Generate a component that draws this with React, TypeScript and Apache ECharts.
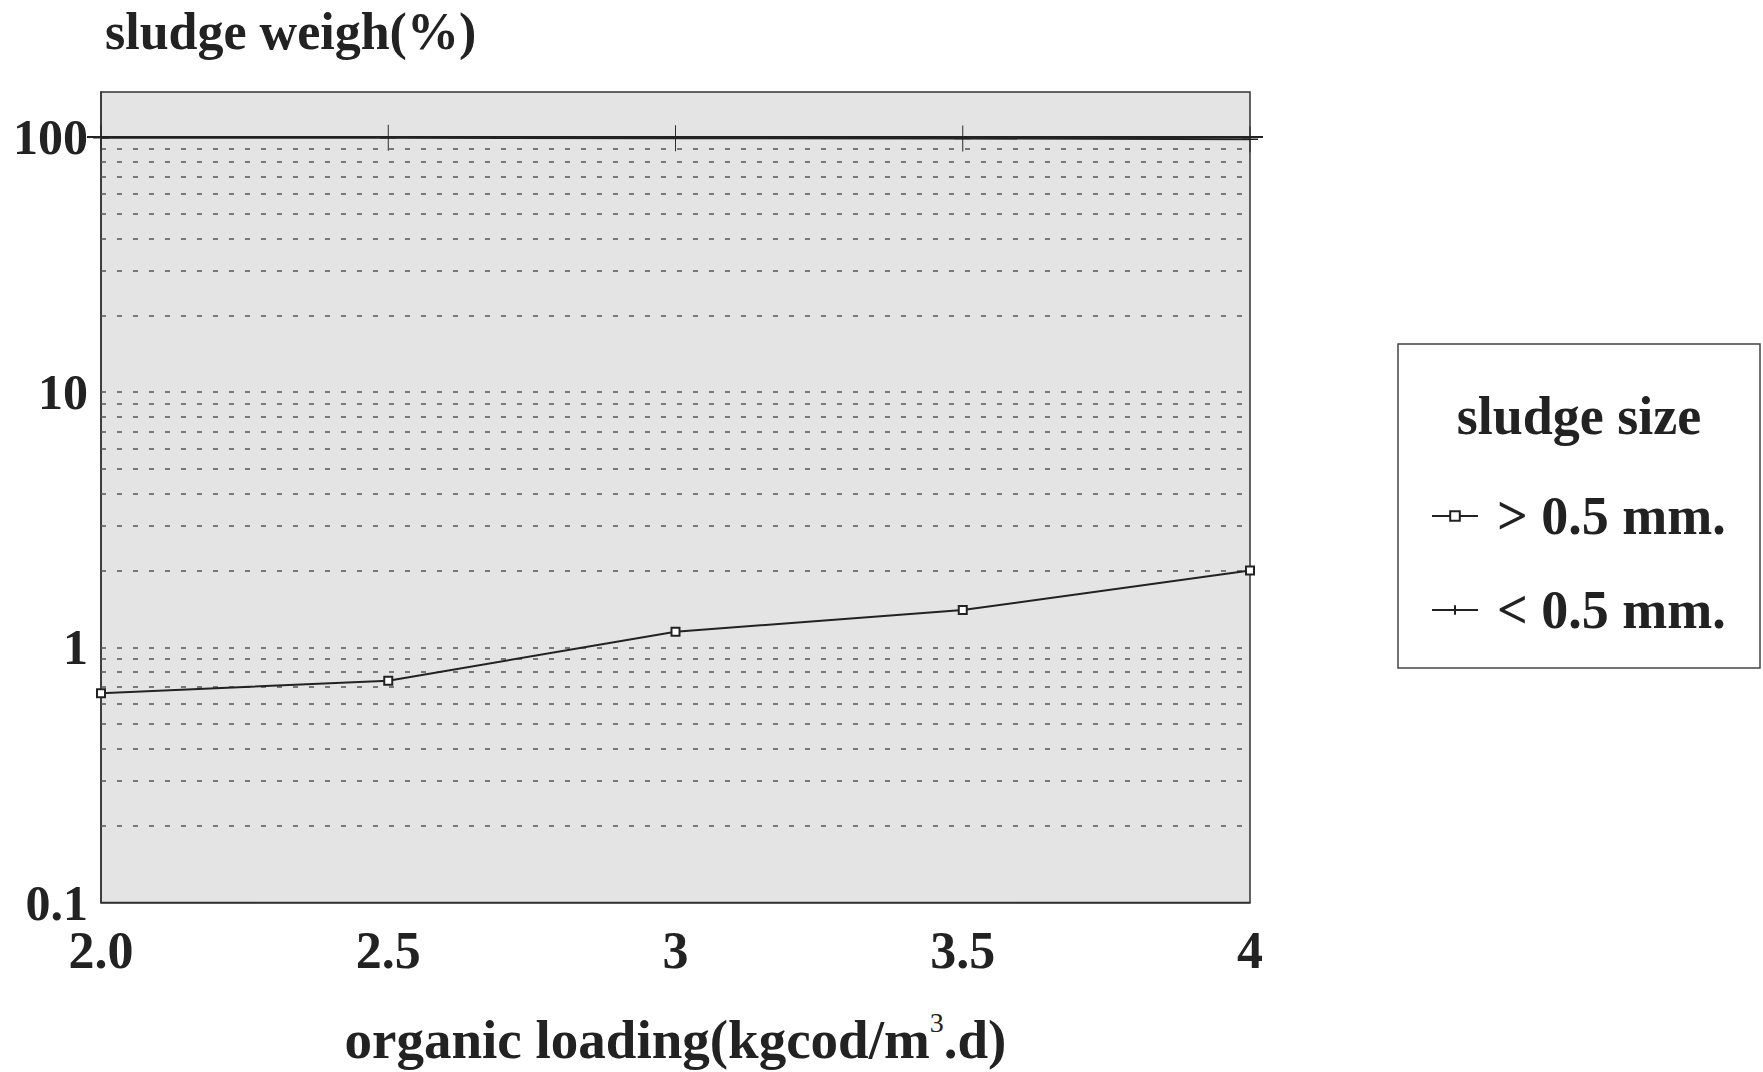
import React, { useEffect, useRef } from 'react';
import * as echarts from 'echarts';

// organic loading (kgcod/m3.d)
const loading = [2.0, 2.5, 3.0, 3.5, 4.0];
// sludge weight (%) for sludge size > 0.5 mm
const coarseSludge = [0.66, 0.74, 1.15, 1.4, 2.0];
// sludge weight (%) for sludge size < 0.5 mm
const fineSludge = [99.3, 99.2, 98.9, 98.6, 98.0];

const seriesNames = ['> 0.5 mm.', '< 0.5 mm.'];
const xTickLabels = ['2.0', '2.5', '3', '3.5', '4'];
const yTickLabels = ['0.1', '1', '10', '100'];
const dashedGridValues = [
  0.2, 0.3, 0.4, 0.5, 0.6, 0.7, 0.8, 0.9, 1,
  2, 3, 4, 5, 6, 7, 8, 9, 10,
  20, 30, 40, 50, 60, 70, 80, 90,
];
const solidGridValue = 100;

const FONT = '"Liberation Serif", "Times New Roman", serif';
const INK = '#222';

export default function App() {
  const ref = useRef<HTMLDivElement>(null);

  useEffect(() => {
    if (!ref.current) return;
    const chart = echarts.init(ref.current, null, { renderer: 'svg' });

    const option: any = {
      animation: false,
      backgroundColor: '#ffffff',
      title: {
        text: 'sludge weigh(%)',
        left: 100,
        top: 0,
        textStyle: { fontFamily: FONT, fontSize: 52, fontWeight: 'bold', color: INK },
      },
      grid: {
        left: 101,
        top: 92,
        width: 1149,
        height: 811,
        show: true,
        backgroundColor: '#e4e4e4',
        borderColor: '#333',
        borderWidth: 1.5,
      },
      legend: {
        left: 1426,
        top: 484,
        orient: 'vertical',
        itemWidth: 46,
        itemHeight: 12,
        itemGap: 40,
        data: seriesNames,
        textStyle: {
          fontFamily: FONT,
          fontSize: 54,
          fontWeight: 'bold',
          color: INK,
          lineHeight: 54,
          padding: [0, 0, 0, 14],
        },
      },
      xAxis: {
        type: 'value',
        min: 2,
        max: 4,
        interval: 0.5,
        name: '{a|organic loading(kgcod/m}{s|3}{a|.d)}',
        nameLocation: 'middle',
        nameGap: 106,
        nameTextStyle: {
          rich: {
            a: { fontFamily: FONT, fontSize: 55, color: INK, fontWeight: 'bold' },
            s: { fontFamily: FONT, fontSize: 28, color: INK, padding: [0, 0, 34, 0] },
          },
        },
        axisLine: { show: true, lineStyle: { color: '#333', width: 1.5 } },
        axisTick: { show: false },
        splitLine: { show: false },
        axisLabel: {
          margin: 22,
          fontFamily: FONT,
          fontSize: 52,
          fontWeight: 'bold',
          color: INK,
          formatter: (v: number) => {
            const i = Math.round((v - loading[0]) / 0.5);
            return Math.abs(loading[0] + i * 0.5 - v) < 1e-6 ? xTickLabels[i] ?? '' : '';
          },
        },
      },
      yAxis: {
        type: 'log',
        logBase: 10,
        min: 0.1,
        max: 150,
        axisLine: { show: true, lineStyle: { color: '#333', width: 1.5 } },
        axisTick: { show: false },
        splitLine: { show: false },
        axisLabel: {
          margin: 13,
          fontFamily: FONT,
          fontSize: 50,
          fontWeight: 'bold',
          color: INK,
          formatter: (v: number) => {
            const l = Math.log10(v);
            const r = Math.round(l);
            if (Math.abs(l - r) > 1e-6) return '';
            return yTickLabels[r + 1] ?? '';
          },
        },
      },
      series: [
        {
          name: seriesNames[0],
          type: 'line',
          data: loading.map((x, i) => [x, coarseSludge[i]]),
          symbol: 'emptyRect',
          symbolSize: 8,
          lineStyle: { color: INK, width: 2 },
          itemStyle: { color: INK, borderWidth: 1.5 },
          z: 5,
          markLine: {
            silent: true,
            symbol: ['none', 'none'],
            label: { show: false },
            lineStyle: { color: '#555', width: 1.6, type: [5, 11] },
            data: [
              ...dashedGridValues.map((v) => ({ yAxis: v })),
              { yAxis: solidGridValue, lineStyle: { type: 'solid', color: INK, width: 2 } },
            ],
          },
        },
        {
          name: seriesNames[1],
          type: 'line',
          data: loading.map((x, i) => [x, fineSludge[i]]),
          symbol: 'path://M0,12 L24,12 M12,0 L12,24',
          symbolSize: [16, 26],
          lineStyle: { color: INK, width: 2 },
          itemStyle: { color: INK, borderColor: INK, borderWidth: 1.2 },
          z: 5,
        },
      ],
      graphic: [
        {
          type: 'rect',
          shape: { x: 1398, y: 344, width: 362, height: 324 },
          style: { fill: 'none', stroke: '#444', lineWidth: 1.5 },
        },
        {
          type: 'text',
          x: 1579,
          y: 416,
          style: {
            text: 'sludge size',
            fontFamily: FONT,
            fontSize: 54,
            fontWeight: 'bold',
            fill: INK,
            textAlign: 'center',
            textVerticalAlign: 'middle',
          },
        },
      ],
    };

    chart.setOption(option);

    // extend the 100% reference line a little outside the plot, as in the original
    const p1 = chart.convertToPixel({ xAxisIndex: 0, yAxisIndex: 0 }, [loading[0], solidGridValue]) as number[];
    const p2 = chart.convertToPixel({ xAxisIndex: 0, yAxisIndex: 0 }, [loading[loading.length - 1], solidGridValue]) as number[];
    if (p1 && p2) {
      chart.setOption({
        graphic: [
          ...option.graphic,
          {
            type: 'line',
            shape: { x1: p1[0] - 14, y1: p1[1], x2: p2[0] + 13, y2: p2[1] },
            style: { stroke: INK, lineWidth: 2 },
            z: 10,
          },
        ],
      });
    }

    return () => chart.dispose();
  }, []);

  return (
    <div
      ref={ref}
      style={{ position: 'fixed', left: 0, top: 0, width: 1763, height: 1072 }}
    />
  );
}
